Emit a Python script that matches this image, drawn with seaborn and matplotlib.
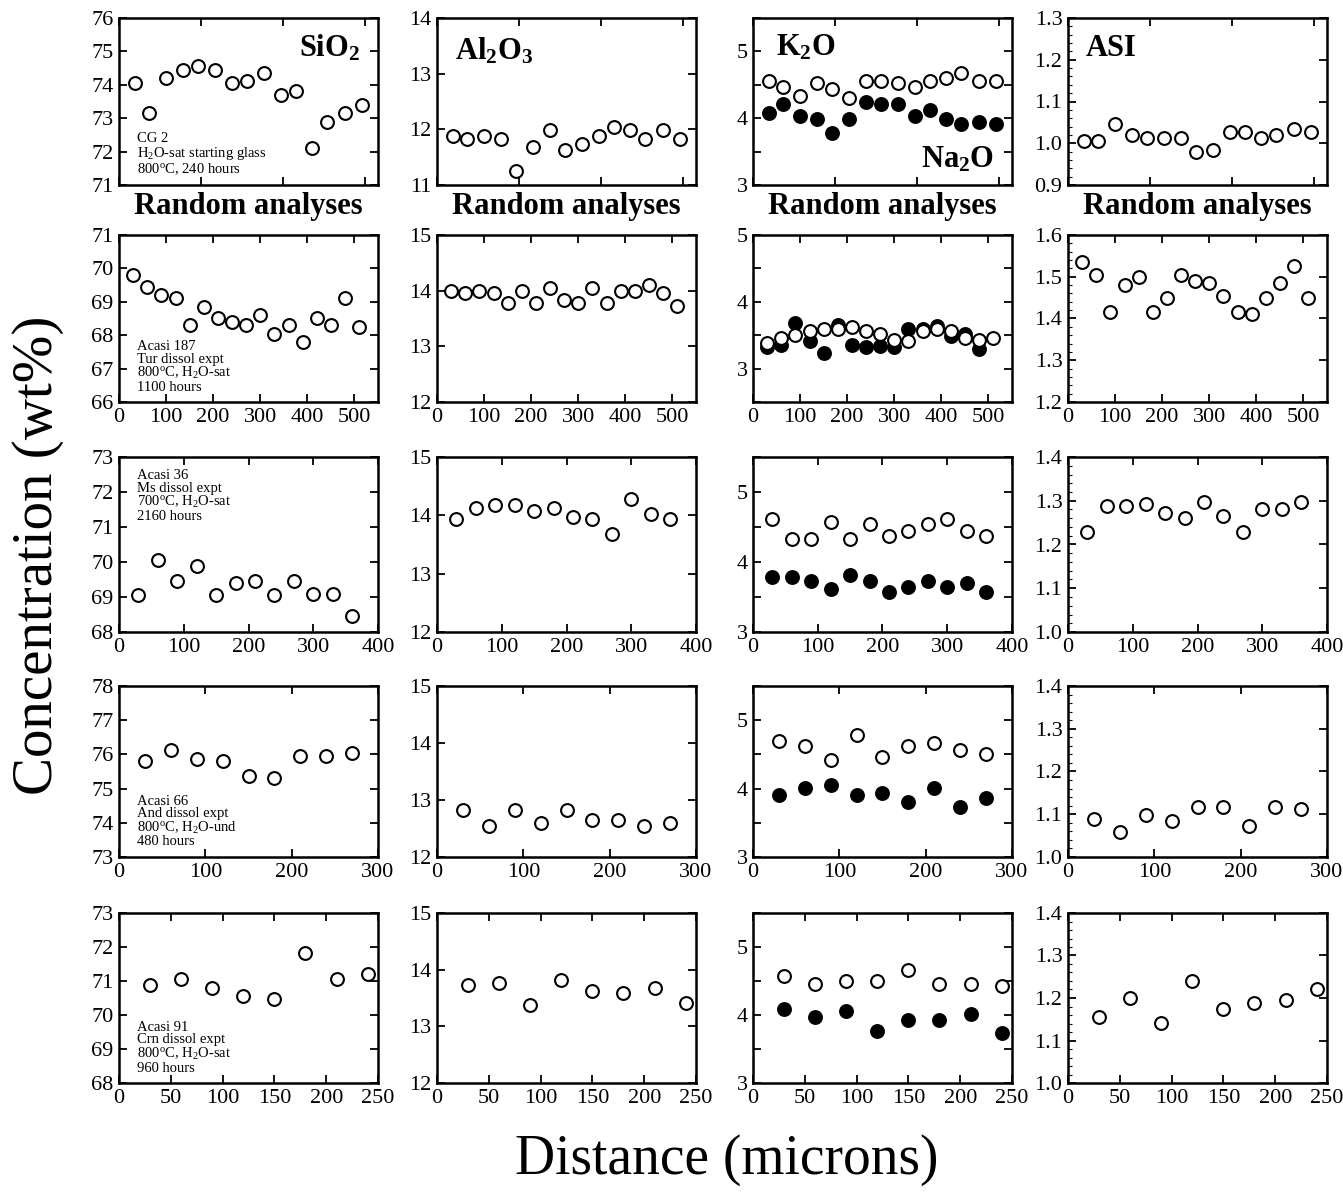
import numpy as np
import pandas as pd
import matplotlib.pyplot as plt
import matplotlib.ticker as mticker
import seaborn as sns

# ---- data ----
# CG 2, random analyses: x is just the analysis order
cg2_x = [0.95, 1.8, 2.85, 3.9, 4.8, 5.85, 6.9, 7.8, 8.85, 9.9, 10.8, 11.8, 12.7, 13.8, 14.8]
cg2_sio2 = [74.05, 73.15, 74.2, 74.45, 74.55, 74.45, 74.05, 74.1, 74.35, 73.7, 73.8, 72.1, 72.9, 73.15, 73.4]
cg2_al2o3 = [11.88, 11.83, 11.88, 11.83, 11.26, 11.68, 11.99, 11.63, 11.73, 11.88, 12.04, 11.99, 11.83, 11.99, 11.83]
cg2_k2o = [4.55, 4.47, 4.33, 4.52, 4.43, 4.3, 4.55, 4.55, 4.52, 4.47, 4.55, 4.6, 4.68, 4.55, 4.55]
cg2_na2o = [4.08, 4.21, 4.03, 3.99, 3.78, 3.99, 4.25, 4.21, 4.21, 4.03, 4.12, 3.99, 3.91, 3.95, 3.91]
cg2_asi = [1.005, 1.005, 1.045, 1.02, 1.013, 1.013, 1.013, 0.978, 0.985, 1.027, 1.027, 1.013, 1.02, 1.033, 1.027]

# Acasi 187
a187_x = [30, 60, 90, 120, 150, 180, 210, 240, 270, 300, 330, 360, 390, 420, 450, 480, 510]
a187_sio2 = [69.8, 69.45, 69.2, 69.1, 68.3, 68.85, 68.5, 68.4, 68.3, 68.6, 68.05, 68.3, 67.8, 68.5, 68.3, 69.1, 68.25]
a187_al2o3 = [14.0, 13.95, 14.0, 13.95, 13.78, 14.0, 13.78, 14.05, 13.83, 13.78, 14.05, 13.78, 14.0, 14.0, 14.1, 13.95, 13.72]
a187_k2o = [3.38, 3.46, 3.5, 3.56, 3.6, 3.6, 3.63, 3.56, 3.52, 3.43, 3.41, 3.56, 3.6, 3.56, 3.46, 3.43, 3.46]
a187_na2o = [3.32, 3.36, 3.69, 3.41, 3.24, 3.65, 3.36, 3.33, 3.34, 3.33, 3.59, 3.59, 3.64, 3.49, 3.52, 3.29]
a187_asi = [1.535, 1.505, 1.415, 1.48, 1.5, 1.415, 1.45, 1.505, 1.49, 1.485, 1.455, 1.415, 1.41, 1.45, 1.485, 1.525, 1.45]

# Acasi 36
a36_x = [30, 60, 90, 120, 150, 180, 210, 240, 270, 300, 330, 360]
a36_sio2 = [69.05, 70.05, 69.45, 69.9, 69.05, 69.4, 69.45, 69.05, 69.45, 69.1, 69.1, 68.45]
a36_al2o3 = [13.93, 14.13, 14.18, 14.18, 14.08, 14.13, 13.98, 13.93, 13.68, 14.28, 14.03, 13.93]
a36_k2o = [4.62, 4.33, 4.33, 4.57, 4.33, 4.54, 4.37, 4.45, 4.54, 4.62, 4.45, 4.37]
a36_na2o = [3.78, 3.78, 3.73, 3.61, 3.81, 3.73, 3.57, 3.65, 3.73, 3.65, 3.7, 3.57]
a36_asi = [1.228, 1.287, 1.287, 1.292, 1.272, 1.26, 1.298, 1.265, 1.228, 1.28, 1.28, 1.298]

# Acasi 66
a66_x = [30, 60, 90, 120, 150, 180, 210, 240, 270]
a66_sio2 = [75.8, 76.12, 75.88, 75.8, 75.38, 75.3, 75.95, 75.95, 76.03]
a66_al2o3 = [12.83, 12.55, 12.83, 12.6, 12.83, 12.65, 12.65, 12.55, 12.6]
a66_k2o = [4.7, 4.62, 4.42, 4.79, 4.46, 4.62, 4.66, 4.57, 4.5]
a66_na2o = [3.9, 4.01, 4.05, 3.9, 3.93, 3.81, 4.01, 3.73, 3.86]
a66_asi = [1.09, 1.058, 1.098, 1.085, 1.118, 1.118, 1.072, 1.118, 1.112]

# Acasi 91
a91_x = [30, 60, 90, 120, 150, 180, 210, 240]
a91_sio2 = [70.88, 71.05, 70.8, 70.55, 70.48, 71.82, 71.05, 71.2]
a91_al2o3 = [13.73, 13.77, 13.38, 13.82, 13.63, 13.58, 13.68, 13.42]
a91_k2o = [4.58, 4.46, 4.5, 4.5, 4.66, 4.46, 4.46, 4.42]
a91_na2o = [4.09, 3.97, 4.06, 3.76, 3.93, 3.93, 4.01, 3.73]
a91_asi = [1.155, 1.2, 1.142, 1.24, 1.175, 1.188, 1.195, 1.22]

sample_notes = [
    "CG 2\nH$_2$O-sat starting glass\n800$^\\mathrm{o}$C, 240 hours",
    "Acasi 187\nTur dissol expt\n800$^\\mathrm{o}$C, H$_2$O-sat\n1100 hours",
    "Acasi 36\nMs dissol expt\n700$^\\mathrm{o}$C, H$_2$O-sat\n2160 hours",
    "Acasi 66\nAnd dissol expt\n800$^\\mathrm{o}$C, H$_2$O-und\n480 hours",
    "Acasi 91\nCrn dissol expt\n800$^\\mathrm{o}$C, H$_2$O-sat\n960 hours",
]

rows = [
    (cg2_x, cg2_sio2, cg2_al2o3, cg2_k2o, cg2_na2o, cg2_asi),
    (a187_x, a187_sio2, a187_al2o3, a187_k2o, a187_na2o, a187_asi),
    (a36_x, a36_sio2, a36_al2o3, a36_k2o, a36_na2o, a36_asi),
    (a66_x, a66_sio2, a66_al2o3, a66_k2o, a66_na2o, a66_asi),
    (a91_x, a91_sio2, a91_al2o3, a91_k2o, a91_na2o, a91_asi),
]

# ---- layout / style ----
sio2_lims = [(71, 76), (66, 71), (68, 73), (73, 78), (68, 73)]
al2o3_lims = [(11, 14), (12, 15), (12, 15), (12, 15), (12, 15)]
alk_lims = [(3, 5.5), (2.5, 5), (3, 5.5), (3, 5.5), (3, 5.5)]
asi_lims = [(0.9, 1.3), (1.2, 1.6), (1.0, 1.4), (1.0, 1.4), (1.0, 1.4)]
x_lims = [(0, 15.8), (0, 550), (0, 400), (0, 300), (0, 250)]
x_major = [5, 100, 100, 100, 50]

sns.set_style("ticks")
plt.rcParams.update({
    "font.family": ["Liberation Serif", "DejaVu Serif"],
    "mathtext.fontset": "custom",
    "mathtext.rm": "Liberation Serif",
    "mathtext.it": "Liberation Serif:italic",
    "mathtext.bf": "Liberation Serif:bold",
    "text.color": "black",
    "axes.labelcolor": "black",
    "xtick.color": "black",
    "ytick.color": "black",
    "xtick.direction": "in",
    "ytick.direction": "in",
    "xtick.top": True,
    "ytick.right": True,
    "axes.linewidth": 1.8,
    "axes.edgecolor": "black",
})

W, H = 1343, 1197
fig = plt.figure(figsize=(W / 100, H / 100), dpi=100)

col_left = [119, 437, 753, 1068]
col_w = 259
row_top = [18, 235, 457, 686, 913]
row_h = [167, 167, 175, 171, 170]

def add_ax(r, c):
    l = col_left[c] / W
    b = 1 - (row_top[r] + row_h[r]) / H
    return fig.add_axes([l, b, col_w / W, row_h[r] / H])

open_kw = dict(color="white", edgecolor="black", linewidth=1.5, s=85, zorder=3)
fill_kw = dict(color="black", edgecolor="black", linewidth=1.5, s=85, zorder=2)

for r, (x, sio2, al2o3, k2o, na2o, asi) in enumerate(rows):
    panels = [(sio2, sio2_lims[r], 1.0, None),
              (al2o3, al2o3_lims[r], 1.0, None),
              (k2o, alk_lims[r], 1.0, 0.5),
              (asi, asi_lims[r], 0.1, 0.02)]
    for c, (vals, ylim, ymaj, ymin) in enumerate(panels):
        ax = add_ax(r, c)
        if c == 2:
            sns.scatterplot(x=x[:len(na2o)], y=na2o, ax=ax, **fill_kw)
        sns.scatterplot(x=x, y=vals, ax=ax, **open_kw)
        ax.set_xlim(*x_lims[r])
        ax.set_ylim(*ylim)
        ax.xaxis.set_major_locator(mticker.MultipleLocator(x_major[r]))
        ax.yaxis.set_major_locator(mticker.MultipleLocator(ymaj))
        if ymin:
            ax.yaxis.set_minor_locator(mticker.MultipleLocator(ymin))
        if c == 3:
            ax.yaxis.set_major_formatter(mticker.FormatStrFormatter("%.1f"))
        else:
            ax.yaxis.set_major_formatter(mticker.FormatStrFormatter("%g"))
        ax.tick_params(which="major", length=6, width=1.3, labelsize=16, pad=4)
        ax.tick_params(which="minor", length=6, width=1.3)
        if c == 3:
            ax.tick_params(axis="y", which="minor", right=False, length=3, width=0.8)
        ax.set_xlabel("")
        ax.set_ylabel("")
        for s in ax.spines.values():
            s.set_linewidth(1.8)
        if r == 0:
            ax.tick_params(axis="x", labelbottom=False)
            ax.set_xlabel("Random analyses", fontsize=22, fontweight="bold", labelpad=5)
        if c == 0:
            if r == 2:
                ax.text(0.07, 0.93, sample_notes[r], transform=ax.transAxes,
                        fontsize=10.5, va="top", ha="left", linespacing=0.95)
            else:
                ax.text(0.07, 0.05, sample_notes[r], transform=ax.transAxes,
                        fontsize=10.5, va="bottom", ha="left", linespacing=0.95)
        if r == 0:
            tkw = dict(transform=ax.transAxes, fontsize=22, fontweight="bold")
            if c == 0:
                ax.text(0.93, 0.82, r"$\mathbf{SiO_2}$", ha="right", va="center", **tkw)
            elif c == 1:
                ax.text(0.07, 0.8, r"$\mathbf{Al_2O_3}$", ha="left", va="center", **tkw)
            elif c == 2:
                ax.text(0.09, 0.82, r"$\mathbf{K_2O}$", ha="left", va="center", **tkw)
                ax.text(0.93, 0.15, r"$\mathbf{Na_2O}$", ha="right", va="center", **tkw)
            else:
                ax.text(0.07, 0.82, "ASI", ha="left", va="center", **tkw)

fig.text(0.028, 0.536, "Concentration (wt%)", rotation=90, fontsize=41,
         ha="center", va="center")
fig.text(0.541, 0.031, "Distance (microns)", fontsize=40, ha="center", va="center")

fig.savefig("out.png", dpi=100)
